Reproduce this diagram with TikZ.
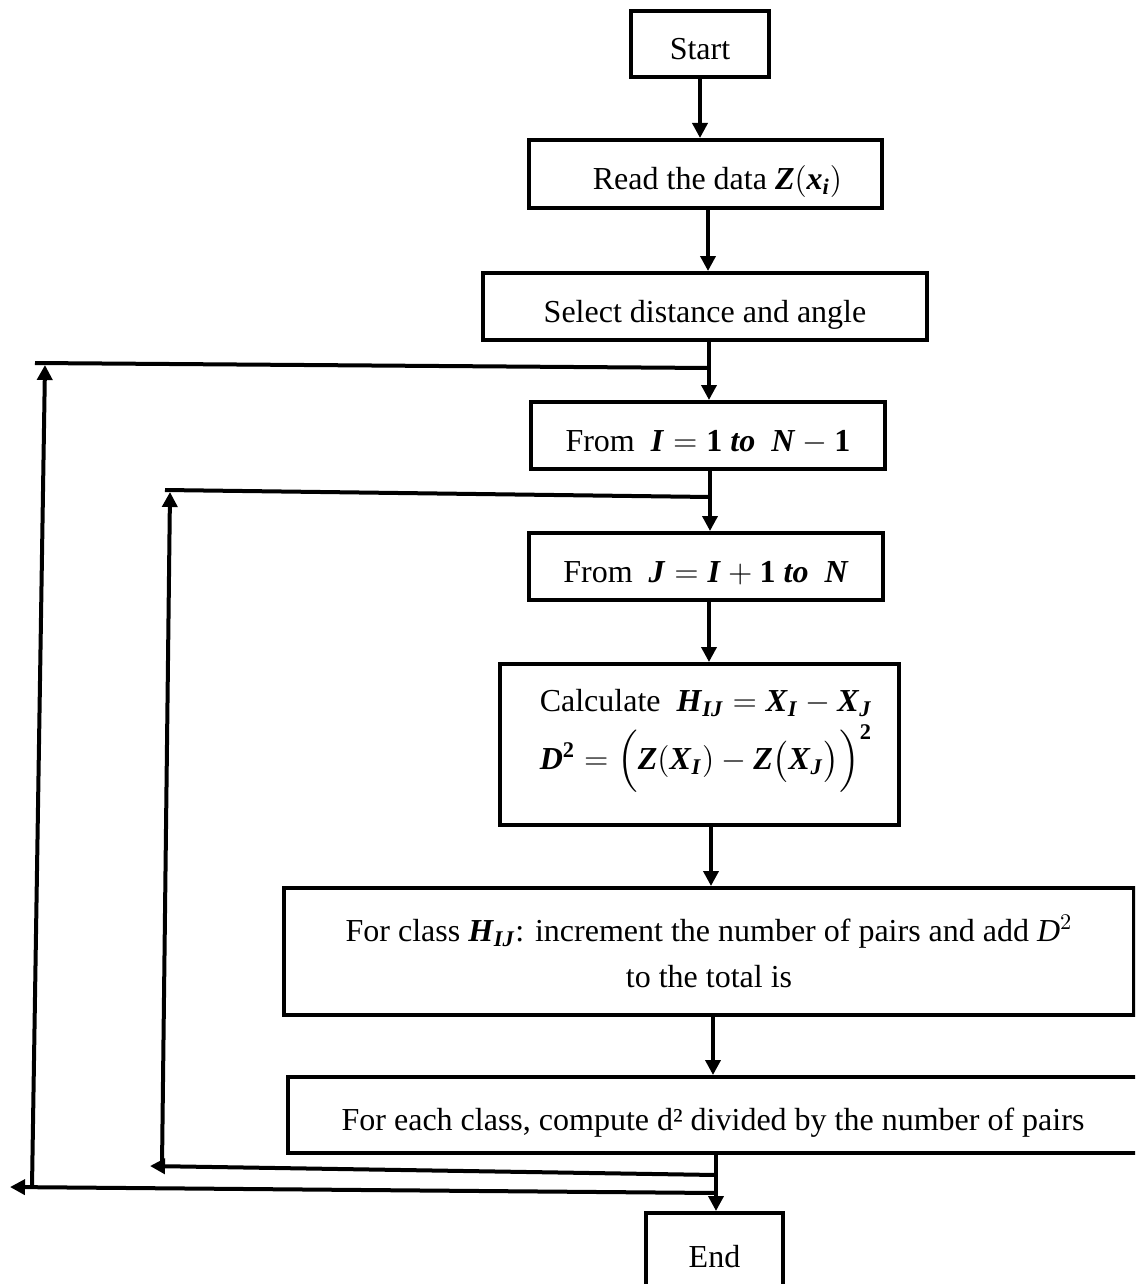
\RequirePackage{fix-cm}
\documentclass[tikz,border=0pt]{standalone}
\usepackage{amsmath}
\usepackage{fontspec}
\setmainfont{Liberation Serif}
\usetikzlibrary{arrows.meta}
% bold italic letters set in the text face
\newcommand{\bi}[1]{\textbf{\textit{#1}}}
\newcommand{\bu}[1]{\textbf{#1}}

\begin{document}
\begin{tikzpicture}[x=0.5pt,y=-0.5pt,
  box/.style={draw, line width=2pt, rectangle, inner sep=0pt,
    font=\fontsize{16}{23}\selectfont},
  onerow/.style={text height=18.5pt, text depth=3pt},
  flow/.style={line width=1.8pt, -{Triangle[length=7.5pt,width=7.5pt]}},
  loopline/.style={line width=2pt},
  looparrow/.style={line width=2pt, -{Triangle[length=7.5pt,width=7.5pt]}}]

\useasboundingbox (0,0) rectangle (1135,1284);
\fill[white] (0,0) rectangle (1135,1284);
\clip (0,0) rectangle (1135,1284);

% process boxes
\node[box, onerow, minimum width=69pt, minimum height=33pt] (start) at (700,44) {Start};
\node[box, onerow, minimum width=176.5pt, minimum height=34pt] (read) at (705.5,174)
  {\hspace*{12pt}Read the data $\bi{Z}(\bi{x}_{\bi{i}})$};
\node[box, onerow, minimum width=222pt, minimum height=33.5pt] (select) at (705,306.5)
  {Select distance and angle};
\node[box, onerow, minimum width=177pt, minimum height=33.5pt] (fromI) at (708,435.5)
  {From\ \ $\bi{I} = \bu{1}\ \bi{to}\ \ \bi{N} - \bu{1}$};
\node[box, onerow, minimum width=177pt, minimum height=33.5pt] (fromJ) at (706,566.5)
  {From\ \ $\bi{J} = \bi{I} + \bu{1}\ \bi{to}\ \ \bi{N}$};
\node[box, minimum width=199.5pt, minimum height=80.5pt] (calc) at (699.5,744.5) {};
\node[align=center, inner sep=0pt, font=\fontsize{16}{29}\selectfont] (calctext) at (706,741)
  {Calculate\ \ $\bi{H}_{\bi{IJ}} = \bi{X}_{\bi{I}} - \bi{X}_{\bi{J}}$\\
   $\bi{D}^{\bu{2}} = \Bigl(\bi{Z}(\bi{X}_{\bi{I}}) - \bi{Z}\bigl(\bi{X}_{\bi{J}}\bigr)\Bigr)^{\bu{2}}$};
\node[box, align=center, minimum width=425pt, minimum height=63.5pt] (class) at (709,951.5)
  {For class $\bi{H}_{\bi{IJ}}$: increment the number of pairs and add $\textit{D}^2$\\ to the total is};
\node[box, onerow, minimum width=425pt, minimum height=38pt] (each) at (713,1115)
  {For each class, compute d² divided by the number of pairs};
\node[box, onerow, minimum width=68.5pt, minimum height=38.5pt] (end) at (714.5,1251.5) {End};

% trunk positions
\coordinate (t1) at (700,0);
\coordinate (t2) at (708,0);
\coordinate (t3) at (709,0);
\coordinate (t4) at (710,0);
\coordinate (t5) at (709,0);
\coordinate (t6) at (711,0);
\coordinate (t7) at (713,0);
\coordinate (t8) at (716,0);

\draw[flow] (start.south -| t1) -- (read.north -| t1);
\draw[flow] (read.south -| t2) -- (select.north -| t2);
\draw[flow] (select.south -| t3) -- (fromI.north -| t3);
\draw[flow] (fromI.south -| t4) -- (fromJ.north -| t4);
\draw[flow] (fromJ.south -| t5) -- (calc.north -| t5);
\draw[flow] (calc.south -| t6) -- (class.north -| t6);
\draw[flow] (class.south -| t7) -- (each.north -| t7);
\draw[flow] (each.south -| t8) -- (end.north -| t8);

% outer loop (back to I)
\coordinate (oBotR) at (716,1193);
\coordinate (oBotL) at (10,1187);
\coordinate (oUpB) at (32,1187);
\coordinate (oUpT) at (45,365);
\coordinate (oTopL) at (35,363);
\coordinate (oTopR) at (709,368);
\draw[looparrow] (oBotR) -- (oBotL);
\draw[looparrow] (oUpB) -- (oUpT);
\draw[loopline] (oTopL) -- (oTopR);

% inner loop (back to J)
\coordinate (iBotR) at (716,1175);
\coordinate (iBotL) at (150,1166);
\coordinate (iUpB) at (162,1166);
\coordinate (iUpT) at (170,492);
\coordinate (iTopL) at (165,490);
\coordinate (iTopR) at (710,497);
\draw[looparrow] (iBotR) -- (iBotL);
\draw[looparrow] (iUpB) -- (iUpT);
\draw[loopline] (iTopL) -- (iTopR);

\end{tikzpicture}
\end{document}
